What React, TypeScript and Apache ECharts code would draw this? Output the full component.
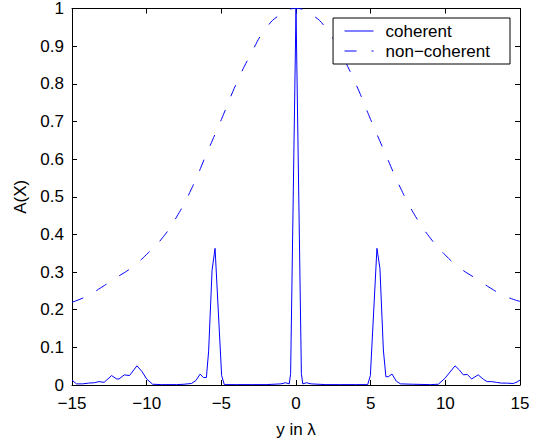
import React, { useEffect, useRef } from "react";
import * as echarts from "echarts";

const xTicks = [-15, -10, -5, 0, 5, 10, 15];
const yTicks = [0, 0.1, 0.2, 0.3, 0.4, 0.5, 0.6, 0.7, 0.8, 0.9, 1];

const nonCohX = [-15, -14, -13, -12, -11, -10, -9, -8, -7, -6, -5, -4, -3, -2, -1, 0, 1, 2, 3, 4, 5, 6, 7, 8, 9, 10, 11, 12, 13, 14, 15];
const nonCohY = [0.22, 0.236, 0.26, 0.286, 0.312, 0.347, 0.388, 0.446, 0.521, 0.613, 0.705, 0.8, 0.881, 0.948, 0.985, 1.0, 0.985, 0.948, 0.881, 0.8, 0.705, 0.613, 0.523, 0.448, 0.39, 0.345, 0.31, 0.284, 0.258, 0.236, 0.222];

const cohX = [
  -15, -14.7, -14.3, -13.9, -13.5, -13.2, -12.85, -12.35, -12.0, -11.85, -11.5, -11.15, -10.65, -10.3, -10.0, -9.6, -9.0, -8.0, -7.5, -7.0, -6.7, -6.42, -6.2, -6.0, -5.85, -5.62, -5.42, -4.98, -4.8, -4.0, -3.0, -2.0, -1.0, -0.7, -0.45, -0.36, 0,
  0.36, 0.45, 0.7, 1.0, 2, 3, 4, 4.8, 4.98, 5.42, 5.62, 5.85, 6.02, 6.18, 6.43, 6.72, 7.0, 7.8, 9.0, 9.53, 9.98, 10.65, 10.94, 11.2, 11.47, 11.76, 12.2, 12.55, 12.8, 13.1, 13.43, 13.76, 14.1, 14.55, 14.8, 15,
];
const cohY = [
  0.013, 0.003, 0.003, 0.005, 0.006, 0.009, 0.007, 0.025, 0.016, 0.016, 0.027, 0.025, 0.051, 0.035, 0.016, 0.002, 0.001, 0.001, 0.002, 0.004, 0.012, 0.029, 0.02, 0.02, 0.09, 0.305, 0.363, 0.025, 0.001, 0.001, 0.001, 0.001, 0.003, 0.006, 0.003, 0.03, 1,
  0.03, 0.003, 0.006, 0.003, 0.001, 0.001, 0.001, 0.001, 0.025, 0.363, 0.31, 0.093, 0.022, 0.022, 0.029, 0.01, 0.003, 0.002, 0.001, 0.002, 0.018, 0.051, 0.04, 0.027, 0.028, 0.016, 0.027, 0.015, 0.009, 0.009, 0.007, 0.005, 0.005, 0.004, 0.008, 0.013,
];

const FONT = "'Liberation Sans', Arial, Helvetica, sans-serif";
const FS = 17;

export default function App() {
  const ref = useRef<HTMLDivElement>(null);
  useEffect(() => {
    if (!ref.current) return;
    const chart = echarts.init(ref.current, undefined, { renderer: "svg" });
    const fmtX = (v: number) => (xTicks.includes(v) ? String(v).replace("-", "\u2212") : "");
    const fmtY = (v: number) => {
      const r = Math.round(v * 10) / 10;
      return yTicks.includes(r) ? String(r) : "";
    };
    const axisLine = { show: true, onZero: false, lineStyle: { color: "#000", width: 1 } };
    const tick = { show: true, inside: true, length: 5, lineStyle: { color: "#000" } };
    chart.setOption({
      animation: false,
      backgroundColor: "#fff",
      textStyle: { fontFamily: FONT },
      grid: { left: 72, right: 21, top: 8, bottom: 58, containLabel: false },
      legend: {
        right: 31,
        top: 18,
        orient: "vertical",
        align: "left",
        itemWidth: 29,
        itemHeight: 14,
        itemGap: 0,
        padding: [3, 20, 3, 11],
        borderColor: "#000",
        borderWidth: 1,
        backgroundColor: "#fff",
        itemStyle: { opacity: 0 },
        lineStyle: { width: 1 },
        textStyle: { fontFamily: FONT, fontSize: FS, color: "#000", lineHeight: 20, padding: [0, 0, 0, 7] },
        data: ["coherent", "non\u2212coherent"],
      },
      xAxis: [
        {
          type: "value",
          min: -15,
          max: 15,
          interval: 5,
          position: "bottom",
          name: "y in \u03bb",
          nameLocation: "middle",
          nameGap: 36,
          nameTextStyle: { fontFamily: FONT, fontSize: FS, color: "#000" },
          axisLine,
          axisTick: tick,
          splitLine: { show: false },
          axisLabel: { fontFamily: FONT, fontSize: FS, color: "#000", margin: 10, formatter: fmtX },
        },
        {
          type: "value",
          min: -15,
          max: 15,
          interval: 5,
          position: "top",
          axisLine,
          axisTick: tick,
          splitLine: { show: false },
          axisLabel: { show: false },
        },
      ],
      yAxis: [
        {
          type: "value",
          min: 0,
          max: 1,
          interval: 0.1,
          position: "left",
          name: "A(X)",
          nameLocation: "middle",
          nameGap: 39,
          nameRotate: 90,
          nameTextStyle: { fontFamily: FONT, fontSize: FS, color: "#000" },
          axisLine,
          axisTick: tick,
          splitLine: { show: false },
          axisLabel: { fontFamily: FONT, fontSize: FS, color: "#000", margin: 8, formatter: fmtY },
        },
        {
          type: "value",
          min: 0,
          max: 1,
          interval: 0.1,
          position: "right",
          axisLine,
          axisTick: tick,
          splitLine: { show: false },
          axisLabel: { show: false },
        },
      ],
      series: [
        {
          name: "coherent",
          type: "line",
          xAxisIndex: 0,
          yAxisIndex: 0,
          symbol: "none",
          showSymbol: false,
          smooth: false,
          lineStyle: { color: "#0000ff", width: 1 },
          itemStyle: { color: "#0000ff" },
          data: cohX.map((x, i) => [x, cohY[i]]),
        },
        {
          name: "non\u2212coherent",
          type: "line",
          xAxisIndex: 0,
          yAxisIndex: 0,
          symbol: "none",
          showSymbol: false,
          smooth: true,
          lineStyle: { color: "#0000ff", width: 1, type: [12, 15] },
          itemStyle: { color: "#0000ff" },
          data: nonCohX.map((x, i) => [x, nonCohY[i]]),
        },
      ],
    });
    return () => chart.dispose();
  }, []);
  return (
    <div
      ref={ref}
      style={{ position: "fixed", left: 0, top: 0, width: 541, height: 443, background: "#fff" }}
    />
  );
}
